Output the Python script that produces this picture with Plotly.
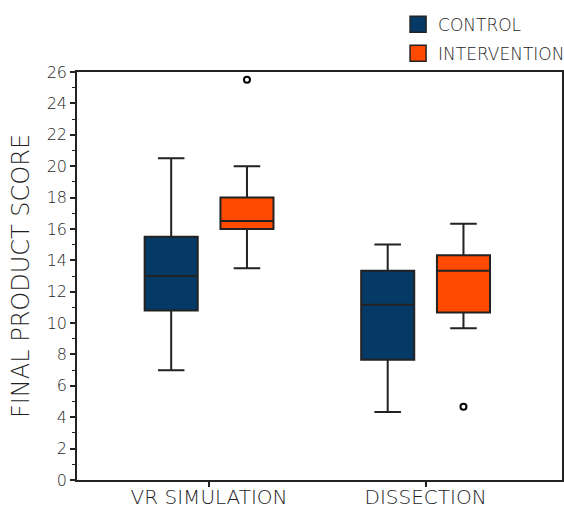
import plotly.graph_objects as go

categories = ["VR SIMULATION", "DISSECTION"]

control_lower = [7.0, 4.33]
control_q1 = [10.8, 7.67]
control_median = [13.0, 11.17]
control_q3 = [15.5, 13.33]
control_upper = [20.5, 15.0]

interv_lower = [13.5, 9.67]
interv_q1 = [16.0, 10.67]
interv_median = [16.5, 13.33]
interv_q3 = [18.0, 14.33]
interv_upper = [20.0, 16.33]
interv_outliers = [[25.5], [4.67]]

y_ticks = list(range(0, 27, 2))

FONT = "DejaVu Sans"
C_CONTROL = "#053A66"
C_INTERV = "#FF4A00"
EDGE = "#222222"
TXT = "#1e1e1e"

fig = go.Figure()

fig.add_trace(go.Box(
    name="CONTROL", x=categories,
    q1=control_q1, median=control_median, q3=control_q3,
    lowerfence=control_lower, upperfence=control_upper,
    fillcolor=C_CONTROL, line=dict(color=EDGE, width=2),
    boxpoints=False,
    whiskerwidth=0.5, showlegend=False, hoverinfo="skip",
))
fig.add_trace(go.Box(
    name="INTERVENTION", x=categories, y=interv_outliers,
    q1=interv_q1, median=interv_median, q3=interv_q3,
    lowerfence=interv_lower, upperfence=interv_upper,
    fillcolor=C_INTERV, line=dict(color=EDGE, width=2),
    boxpoints="outliers", marker=dict(symbol="circle-open", color="black", size=6, line=dict(width=2)),
    whiskerwidth=0.5, showlegend=False, hoverinfo="skip",
))

for nm, col in [("CONTROL", C_CONTROL), ("INTERVENTION", C_INTERV)]:
    fig.add_trace(go.Scatter(
        x=[None], y=[None], mode="markers", name=nm, legendgroup=nm,
        marker=dict(symbol="square", size=16, color=col, line=dict(color=EDGE, width=1.5)),
    ))

fig.update_layout(
    width=564, height=510,
    margin=dict(l=77, r=2, t=72, b=30, autoexpand=False),
    paper_bgcolor="white", plot_bgcolor="white",
    boxmode="group", boxgap=0.3, boxgroupgap=0.3,
    font=dict(family=FONT, color=TXT),
    legend=dict(x=0.662, xanchor="left", y=1.16, yanchor="top",
                font=dict(size=17, color=TXT, family=FONT, weight=300),
                tracegroupgap=4, bgcolor="rgba(0,0,0,0)"),
)

fig.update_xaxes(
    type="category", range=[-0.61, 1.63],
    showline=True, linecolor=EDGE, linewidth=1.5, mirror=True,
    ticks="outside", ticklen=5, tickcolor=EDGE, tickwidth=1.5,
    tickfont=dict(size=20, family=FONT, color=TXT, weight=300),
    ticklabelstandoff=-7,
    showgrid=False, zeroline=False, automargin=False,
)
fig.update_yaxes(
    range=[0, 26], tickvals=y_ticks,
    showline=True, linecolor=EDGE, linewidth=1.5, mirror=True,
    ticks="outside", ticklen=5, tickcolor=EDGE, tickwidth=1.5,
    minor=dict(dtick=1, ticks="outside", ticklen=3, tickcolor=EDGE, tickwidth=1),
    tickfont=dict(size=16, family=FONT, color=TXT, weight=300),
    title=dict(text="FINAL PRODUCT SCORE", font=dict(size=24, family=FONT, color=TXT, weight=300), standoff=10),
    showgrid=False, zeroline=False, automargin=False,
)

fig.write_html("out.html", config={"displayModeBar": False},
               post_script="document.body.style.margin='0px';")
